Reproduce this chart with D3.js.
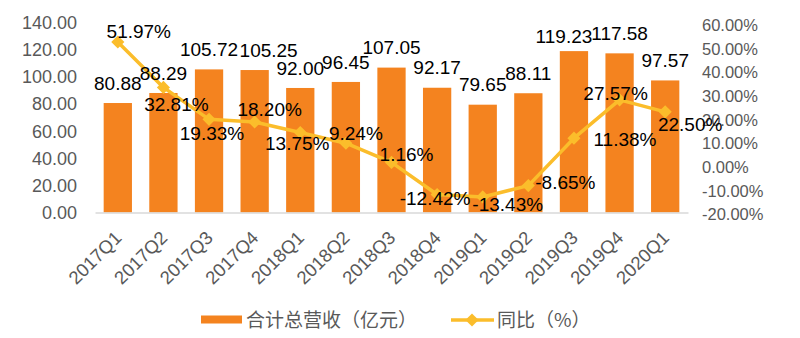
<!DOCTYPE html>
<html>
<head>
<meta charset="utf-8">
<script src="https://cdn.jsdelivr.net/npm/d3@7/dist/d3.min.js"></script>
<style>
  html, body { margin: 0; padding: 0; background: #fff; }
  svg { display: block; }
</style>
</head>
<body>
<svg id="chart" width="800" height="338"></svg>
<script>
// ---- data ----
const categories = ["2017Q1","2017Q2","2017Q3","2017Q4","2018Q1","2018Q2","2018Q3","2018Q4","2019Q1","2019Q2","2019Q3","2019Q4","2020Q1"];
const revenue = [80.88, 88.29, 105.72, 105.25, 92.00, 96.45, 107.05, 92.17, 79.65, 88.11, 119.23, 117.58, 97.57];
const yoy = [51.97, 32.81, 19.33, 18.20, 13.75, 9.24, 1.16, -12.42, -13.43, -8.65, 11.38, 27.57, 22.50];
const leftTicks = [0, 20, 40, 60, 80, 100, 120, 140];
const rightTicks = [-20, -10, 0, 10, 20, 30, 40, 50, 60];
const seriesNames = ["合计总营收（亿元）", "同比（%）"];

// ---- label placement (style only) ----
const barLabelShift = [[0,0],[0,0],[0,0],[14,0],[0,0],[0,0],[0,0],[0,0],[0,0],[0,0],[-10,5],[0,0],[0,0]];
const pctLabelShift = [[21,-11],[13,17],[3,14],[15,-13],[-3,11],[10,-10],[15,-8],[-2,4],[25,7],[37,-3],[51,1],[-4,-6],[25,13]];

const BAR = "#F4831F", LINE = "#FBBD2B", AXIS_TXT = "#595959";
const FONT = "'Liberation Sans', Arial, sans-serif";
const CJK = "'Noto Sans CJK SC', 'Liberation Sans', sans-serif";

d3.formatDefaultLocale({decimal: ".", thousands: ",", grouping: [3], currency: ["", ""], minus: "-"});
const f2 = d3.format(".2f");

const svg = d3.select("#chart");
const x0 = 95, x1 = 688, yBottom = 212.5, yTop = 23;

const x = d3.scaleBand().domain(categories).range([x0, x1]).paddingInner(0.38).paddingOuter(0.19);
const yL = d3.scaleLinear().domain([0, 140]).range([yBottom, yTop]);
const yR = d3.scaleLinear().domain([-20, 60]).range([yBottom, yTop]);
const cx = d => x(d) + x.bandwidth() / 2;

// left axis
const gL = svg.append("g").attr("transform", `translate(${x0},0)`)
  .call(d3.axisLeft(yL).tickValues(leftTicks).tickFormat(f2).tickSize(0).tickPadding(18));
gL.select(".domain").remove();
gL.selectAll("text").attr("fill", AXIS_TXT).style("font-family", FONT).style("font-size", "18px");

// right axis
const gR = svg.append("g").attr("transform", `translate(${x1},0)`)
  .call(d3.axisRight(yR).tickValues(rightTicks).tickFormat(d => f2(d) + "%").tickSize(0).tickPadding(14));
gR.select(".domain").remove();
gR.selectAll("text").attr("fill", AXIS_TXT).style("font-family", FONT).style("font-size", "16.5px")
  .attr("dy", "0.45em");

// bars
svg.append("g").selectAll("rect").data(revenue).join("rect")
  .attr("x", (d, i) => x(categories[i]))
  .attr("width", x.bandwidth())
  .attr("y", d => yL(d))
  .attr("height", d => yBottom - yL(d))
  .attr("fill", BAR);

// x axis line
const gX = svg.append("g").attr("transform", `translate(0,${yBottom})`)
  .call(d3.axisBottom(x).tickSize(0).tickFormat(""));
gX.select(".domain").attr("stroke", "#D9D9D9").attr("stroke-width", 1.5);

// x labels rotated
svg.append("g").selectAll("text").data(categories).join("text")
  .attr("transform", d => `translate(${cx(d) + 5},239) rotate(-45)`)
  .attr("text-anchor", "end")
  .attr("fill", AXIS_TXT)
  .style("font-family", FONT).style("font-size", "18.5px")
  .text(d => d);

// line
const line = d3.line().x((d, i) => cx(categories[i])).y(d => yR(d));
svg.append("path").datum(yoy).attr("d", line)
  .attr("fill", "none").attr("stroke", LINE).attr("stroke-width", 3.5).attr("stroke-linejoin", "round");

const diamond = d3.symbol().type(d3.symbolDiamond2).size(110);
svg.append("g").selectAll("path").data(yoy).join("path")
  .attr("transform", (d, i) => `translate(${cx(categories[i])},${yR(d)})`)
  .attr("d", diamond).attr("fill", LINE);

// bar value labels
svg.append("g").selectAll("text").data(revenue).join("text")
  .attr("x", (d, i) => cx(categories[i]) + barLabelShift[i][0])
  .attr("y", (d, i) => yL(d) - 20 + barLabelShift[i][1])
  .attr("dy", "0.35em")
  .attr("text-anchor", "middle")
  .attr("fill", "#000")
  .style("font-family", FONT).style("font-size", "19px")
  .text(d => f2(d));

// pct labels
svg.append("g").selectAll("text").data(yoy).join("text")
  .attr("x", (d, i) => cx(categories[i]) + pctLabelShift[i][0])
  .attr("y", (d, i) => yR(d) + pctLabelShift[i][1])
  .attr("dy", "0.35em")
  .attr("text-anchor", "middle")
  .attr("fill", "#000")
  .style("font-family", FONT).style("font-size", "19px")
  .text(d => f2(d) + "%");

// legend
const lg = svg.append("g");
lg.append("rect").attr("x", 201).attr("y", 315.5).attr("width", 41).attr("height", 8).attr("fill", BAR);
lg.append("text").attr("x", 246).attr("y", 320).attr("dy", "0.35em")
  .attr("fill", AXIS_TXT).style("font-family", CJK).style("font-size", "19px").text(seriesNames[0]);
lg.append("line").attr("x1", 451).attr("x2", 494).attr("y1", 320).attr("y2", 320)
  .attr("stroke", LINE).attr("stroke-width", 3.5);
lg.append("path").attr("transform", "translate(472,320)").attr("d", diamond).attr("fill", LINE);
lg.append("text").attr("x", 497).attr("y", 320).attr("dy", "0.35em")
  .attr("fill", AXIS_TXT).style("font-family", CJK).style("font-size", "19px").text(seriesNames[1]);
</script>
</body>
</html>
